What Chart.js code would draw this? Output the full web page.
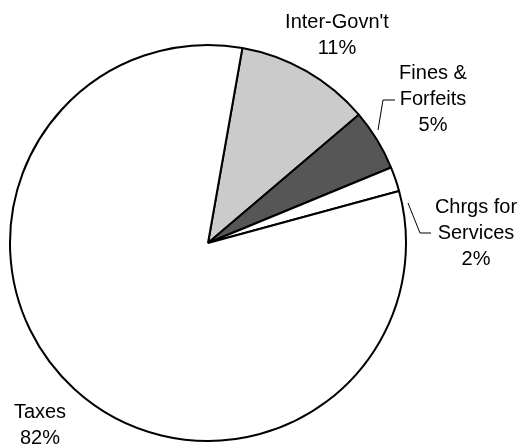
<!DOCTYPE html>
<html>
<head>
<meta charset="utf-8">
<script src="https://cdn.jsdelivr.net/npm/chart.js@4/dist/chart.umd.min.js"></script>
<style>
  html, body { margin: 0; padding: 0; background: #fff; }
  #wrap { width: 522px; height: 444px; }
</style>
</head>
<body>
<div id="wrap"><canvas id="revenuePie"></canvas></div>
<script>
// Revenue sources, clockwise from the Inter-Govn't wedge
const categories = [["Inter-Govn't"], ["Fines &", "Forfeits"], ["Chrgs for", "Services"], ["Taxes"]];
const shares = [11, 5, 2, 82];
const sliceColors = ["#cbcbcb", "#565656", "#ffffff", "#ffffff"];

// where each label sits and how its leader line runs (null = no leader)
const labelSpots = [
    { x: 337, y: 28, leader: null },
    { x: 433, y: 79, leader: [[378, 130], [383, 100], [395, 100]] },
    { x: 476, y: 213, leader: [[408, 203], [420, 233], [431, 233]] },
    { x: 40, y: 418, leader: null }
];

const LINE_H = 26;

const sliceLabels = {
    id: "sliceLabels",
    afterDatasetsDraw(chart) {
        const ctx = chart.ctx;
        const vals = chart.data.datasets[0].data;
        ctx.save();
        ctx.fillStyle = "#000";
        ctx.strokeStyle = "#000";
        ctx.lineWidth = 1;
        ctx.font = "20px 'Liberation Sans', Arial, sans-serif";
        ctx.textAlign = "center";
        ctx.textBaseline = "alphabetic";
        chart.data.labels.forEach((lines, i) => {
            const spot = labelSpots[i];
            const text = lines.concat([vals[i] + "%"]);
            text.forEach((t, j) => ctx.fillText(t, spot.x, spot.y + j * LINE_H));
            if (spot.leader) {
                ctx.beginPath();
                spot.leader.forEach(([px, py], k) => k ? ctx.lineTo(px, py) : ctx.moveTo(px, py));
                ctx.stroke();
            }
        });
        ctx.restore();
    }
};

new Chart(document.getElementById("revenuePie"), {
    type: "pie",
    data: {
        labels: categories,
        datasets: [{
            data: shares,
            backgroundColor: sliceColors,
            borderColor: "#000",
            borderWidth: 2
        }]
    },
    options: {
        responsive: true,
        maintainAspectRatio: false,
        animation: false,
        rotation: 10,
        radius: 198,
        layout: { padding: { left: 0, right: 106, top: 42, bottom: 0 } },
        plugins: {
            legend: { display: false },
            tooltip: { enabled: false }
        }
    },
    plugins: [sliceLabels]
});
</script>
</body>
</html>
